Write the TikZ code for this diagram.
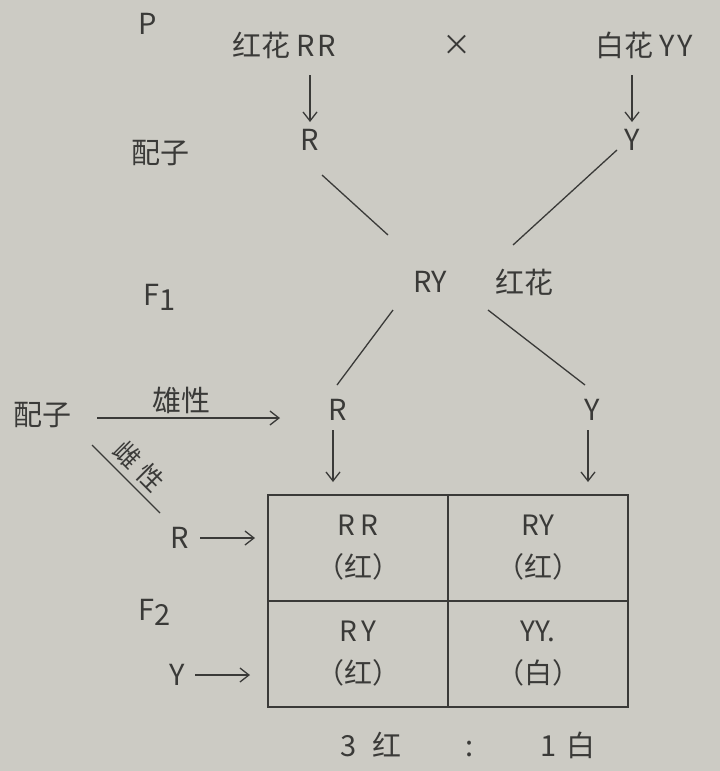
\documentclass[tikz,border=0pt]{standalone}
\usepackage{fontspec}
\setmainfont{Noto Sans CJK SC}
\usetikzlibrary{arrows.meta, calc}
\definecolor{paper}{RGB}{204,203,196}
\definecolor{ink}{RGB}{58,58,56}

\begin{document}
\begin{tikzpicture}[
    x=1pt, y=-1pt,
    txt/.style={font=\fontsize{29}{34}\selectfont, text=ink, inner sep=1pt},
    cell/.style={draw=ink, line width=1.6pt, minimum width=180pt,
                 minimum height=106pt, align=center, text=ink,
                 font=\fontsize{28}{42}\selectfont},
    ln/.style={draw=ink, line width=1.3pt},
    arr/.style={ln, -{Straight Barb[length=9pt, width=14pt]}},
    >=Stealth
  ]
  \path[use as bounding box, fill=paper] (0,0) rectangle (720,771);

  % Parents
  \node[txt] (p) at (148,24) {P};
  \node[txt] (pR) at (284,45) {红花 R\kern2pt R};
  \node[txt] (cross) at (457,45) {×};
  \node[txt] (pY) at (644,45) {白花 Y\kern2pt Y};

  % Gametes of the parents
  \node[txt] (gam1) at (160,153) {配子};
  \node[txt] (gR) at (310,140) {R};
  \node[txt] (gY) at (632,140) {Y};
  \draw[arr] ($(gR)+(0,-65)$) -- ($(gR)+(0,-18)$);
  \draw[arr] ($(gY)+(0,-65)$) -- ($(gY)+(0,-18)$);

  % F1
  \node[txt] (f1) at (430,282) {RY};
  \node[txt] (f1ph) at (524,282) {红花};
  \node[txt] (f1lbl) at (160,297) {F\raisebox{-5pt}{1}};
  \draw[ln] ($(gR)+(12,35)$) -- ($(f1)+(-42,-47)$);
  \draw[ln] ($(gY)+(-15,10)$) -- ($(f1)+(83,-37)$);

  % Gametes of F1
  \node[txt] (gam2) at (42,415) {配子};
  \node[txt] (mR) at (338,410) {R};
  \node[txt] (mY) at (592,410) {Y};
  \draw[ln] ($(f1)+(-37,28)$) -- ($(mR)+(-1,-25)$);
  \draw[ln] ($(f1)+(58,28)$) -- ($(mY)+(-7,-25)$);

  \node[txt] (male) at (181,400) {雄性};
  \draw[arr] ($(gam2)+(55,3)$) -- ($(mR)+(-58,8)$);
  \node[txt, font=\fontsize{26}{30}\selectfont, rotate=-45] (female) at (139,466)
    {雌\hspace{6pt}性};
  \draw[ln] ($(female)+(-47,-21)$) -- ($(female)+(21,47)$);

  % F2 square
  \foreach \gt/\ph/\cx/\cy/\nm in {R\,R/红/358/548/rr, RY/红/538/548/ry,
                                   R\,Y/红/358/654/yr, YY./白/538/654/yy} {
    \node[cell] (\nm) at (\cx,\cy) {\gt\\（\ph）};
  }
  \draw[arr] ($(mR)+(-5,20)$) -- ($(mR)+(-5,72)$);
  \draw[arr] ($(mY)+(-4,20)$) -- ($(mY)+(-4,72)$);

  \node[txt] (fR) at (180,538) {R};
  \node[txt] (fY) at (177,675) {Y};
  \node[txt] (f2lbl) at (155,612) {F\raisebox{-5pt}{2}};
  \draw[arr] ($(fR)+(20,0)$) -- ($(fR)+(75,0)$);
  \draw[arr] ($(fY)+(18,0)$) -- ($(fY)+(73,0)$);

  \node[txt] (ratio) at (468,745)
    {3\hspace{16pt}红\hspace{64pt}:\hspace{66pt}1\hspace{10pt}白};
\end{tikzpicture}
\end{document}
